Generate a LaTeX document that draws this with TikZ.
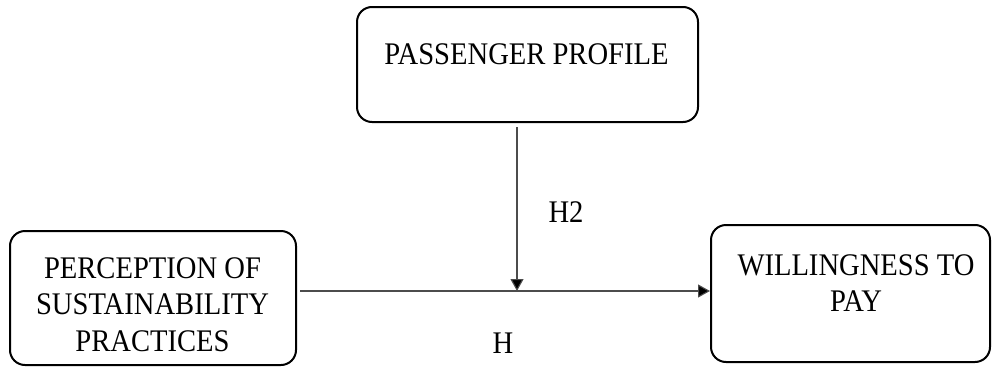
\documentclass[tikz,border=0pt]{standalone}
\usepackage{fontspec}
\setmainfont{Liberation Serif}
\usetikzlibrary{arrows.meta}
% slightly tall lettering
\newcommand\tallline[1]{\scalebox{1}[1.1]{#1}}
\begin{document}
\begin{tikzpicture}[x=1pt,y=1pt,
  box/.style={draw=black, line width=2pt, rounded corners=15pt, inner sep=0pt},
  label/.style={font=\fontsize{28.6}{36.5}\selectfont, align=center, inner sep=0pt},
  link/.style={draw=black!70, line width=1.1pt, -{Triangle[length=12pt,width=13pt,fill=black]}}
]
\useasboundingbox (0,0) rectangle (993,-367);
% construct boxes
\node[box, minimum width=341pt, minimum height=115pt] (profile) at (527.5,-64.5) {};
\node[box, minimum width=286pt, minimum height=134pt] (perception) at (153,-298) {};
\node[box, minimum width=279pt, minimum height=137pt] (wtp) at (850.5,-293.5) {};
% box texts
\node[label] (profiletext) at (526.5,-54.5) {\tallline{PASSENGER PROFILE}};
\node[label] (perceptiontext) at (152.5,-304.5) {\tallline{PERCEPTION OF}\\\tallline{SUSTAINABILITY}\\\tallline{PRACTICES}};
\node[label] (wtptext) at (856,-283) {\tallline{WILLINGNESS TO}\\\tallline{PAY}};
% paths
\coordinate (join) at (517,-291);
\coordinate (ptop) at ([yshift=-4pt]profile.south -| join);
\coordinate (hstart) at ([xshift=3pt]perception.east |- join);
\draw[link] (hstart) -- (wtp.west |- join);
\draw[link] (ptop) -- (join);
% hypothesis labels
\node[label] (h2) at (566,-212) {\tallline{H2}};
\node[label] (h1) at (503,-343) {\tallline{H}};
\end{tikzpicture}
\end{document}
